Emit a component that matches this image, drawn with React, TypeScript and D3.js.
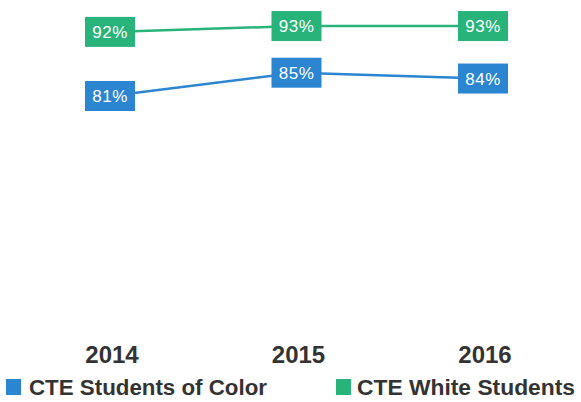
import React from "react";
import * as d3 from "d3";

const years = ["2014", "2015", "2016"];
const colorValues = [81, 85, 84];
const whiteValues = [92, 93, 93];
const seriesNames = ["CTE Students of Color", "CTE White Students"];
const seriesColors = ["#2b85d0", "#27b37a"];

const W = 581;
const H = 402;

export default function App() {
  const x = d3.scalePoint<string>().domain(years).range([110, 483]);
  const y = d3.scaleLinear().domain([75, 95]).range([131, 14.4]);
  const line = d3
    .line<number>()
    .x((_, i) => x(years[i]) as number)
    .y((d) => y(d));

  const series = [
    { name: seriesNames[0], values: colorValues, color: seriesColors[0] },
    { name: seriesNames[1], values: whiteValues, color: seriesColors[1] },
  ];
  const bw = 50;
  const bh = 30;

  return (
    <svg
      width={W}
      height={H}
      style={{ position: "absolute", left: 0, top: 0, background: "#fff" }}
      fontFamily="Liberation Sans, Arial, sans-serif"
    >
      {series.map((s) => (
        <g key={s.name}>
          <path d={line(s.values) || ""} fill="none" stroke={s.color} strokeWidth={2.5} />
          {s.values.map((v, i) => {
            const cx = x(years[i]) as number;
            const cy = y(v);
            return (
              <g key={i}>
                <rect x={cx - bw / 2} y={cy - bh / 2} width={bw} height={bh} fill={s.color} />
                <text
                  x={cx}
                  y={cy + 6}
                  textAnchor="middle"
                  fill="#fff"
                  fontSize={17}
                  letterSpacing={0.5}
                >
                  {v}%
                </text>
              </g>
            );
          })}
        </g>
      ))}
      {years.map((yr) => (
        <text
          key={yr}
          x={(x(yr) as number) + 2}
          y={363}
          textAnchor="middle"
          fontSize={24}
          fontWeight="bold"
          fill="#333"
        >
          {yr}
        </text>
      ))}
      <rect x={6} y={379} width={15} height={16} fill={seriesColors[0]} />
      <text
        x={29}
        y={395}
        fontSize={22}
        fontWeight="bold"
        fill="#333"
        textLength={238}
        lengthAdjust="spacingAndGlyphs"
      >
        {seriesNames[0]}
      </text>
      <rect x={336} y={379} width={15} height={16} fill={seriesColors[1]} />
      <text
        x={357}
        y={395}
        fontSize={22}
        fontWeight="bold"
        fill="#333"
        textLength={218}
        lengthAdjust="spacingAndGlyphs"
      >
        {seriesNames[1]}
      </text>
    </svg>
  );
}
